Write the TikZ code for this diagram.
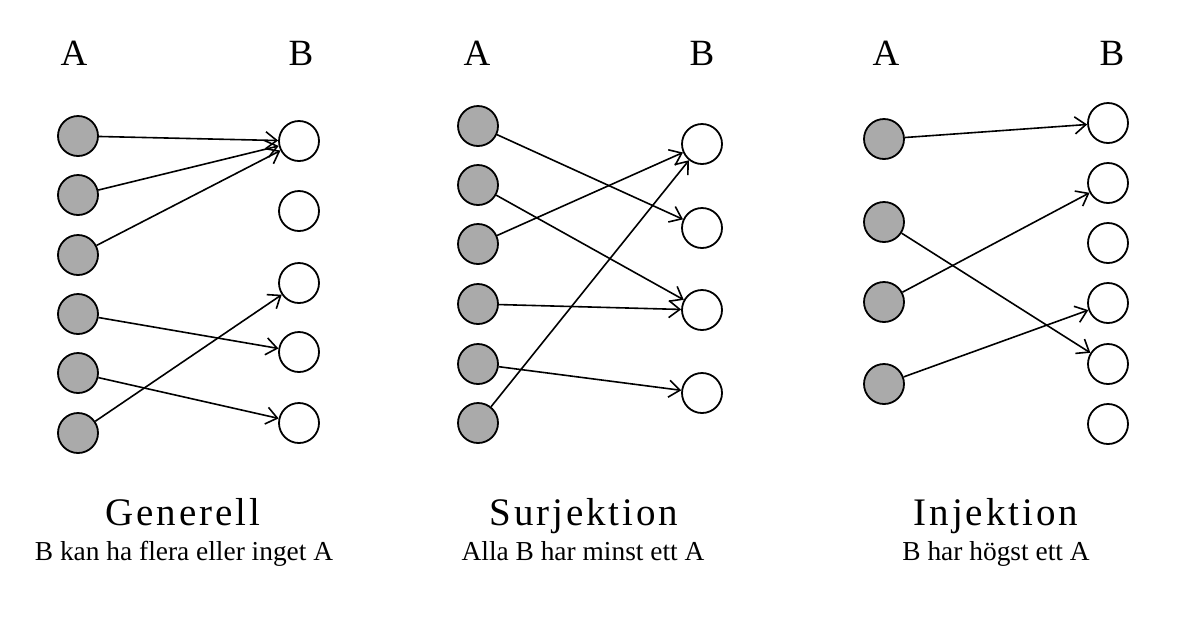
\documentclass[tikz,border=0pt]{standalone}
\usepackage{fontspec}
\setmainfont{Liberation Serif}
\newfontfamily\titlefont[LetterSpace=7.5]{Liberation Serif}
\usepackage{tikz}
\usetikzlibrary{arrows.meta}
\definecolor{nodegray}{RGB}{170,170,170}

\tikzset{
    anode/.style={circle, draw, line width=1.8pt, fill=nodegray, minimum size=40pt, inner sep=0pt},
    bnode/.style={circle, draw, line width=1.8pt, fill=white, minimum size=40pt, inner sep=0pt},
    arr/.style={line width=1.6pt, -{Straight Barb[length=11pt,width=17pt]}},
    setlabel/.style={anchor=base, font=\fontsize{37}{40}\selectfont},
    title/.style={anchor=base, font=\titlefont\fontsize{39}{42}\selectfont},
    subtitle/.style={anchor=base, font=\fontsize{27.4}{30}\selectfont}
}

\begin{document}
\begin{tikzpicture}[x=1pt,y=-1pt]
        \useasboundingbox (0,0) rectangle (1188,638);

        % Generell
        \node[setlabel] (gA) at (74,65) {A};
        \node[setlabel] (gB) at (301,65) {B};
        \foreach \y [count=\i] in {136,195,255,314,373,433} {
            \node[anode] (ga\i) at (78,\y) {};
        }
        \foreach \y [count=\i] in {141,211,283,352,423} {
            \node[bnode] (gb\i) at (299,\y) {};
        }
        \foreach \s/\t in {1/1,2/1,3/1,4/4,5/5,6/3} {
            \draw[arr] (ga\s) -- (gb\t);
        }
        \node[title] (gT) at (183,525) {Generell};
        \node[subtitle] (gS) at (184,560) {B kan ha flera eller inget A};

        % Surjektion
        \node[setlabel] (sA) at (477,65) {A};
        \node[setlabel] (sB) at (702,65) {B};
        \foreach \y [count=\i] in {126,185,244,304,364,423} {
            \node[anode] (sa\i) at (478,\y) {};
        }
        \foreach \y [count=\i] in {144,228,310,393} {
            \node[bnode] (sb\i) at (702,\y) {};
        }
        \foreach \s/\t in {1/2,2/3,3/1,4/3,5/4,6/1} {
            \draw[arr] (sa\s) -- (sb\t);
        }
        \node[title] (sT) at (584,525) {Surjektion};
        \node[subtitle] (sS) at (583,560) {Alla B har minst ett A};

        % Injektion
        \node[setlabel] (iA) at (886,65) {A};
        \node[setlabel] (iB) at (1112,65) {B};
        \foreach \y [count=\i] in {139,222,302,384} {
            \node[anode] (ia\i) at (884,\y) {};
        }
        \foreach \y [count=\i] in {123,183,243,303,364,424} {
            \node[bnode] (ib\i) at (1108,\y) {};
        }
        \foreach \s/\t in {1/1,2/5,3/2,4/4} {
            \draw[arr] (ia\s) -- (ib\t);
        }
        \node[title] (iT) at (996,525) {Injektion};
        \node[subtitle] (iS) at (996,560) {B har högst ett A};
\end{tikzpicture}
\end{document}
